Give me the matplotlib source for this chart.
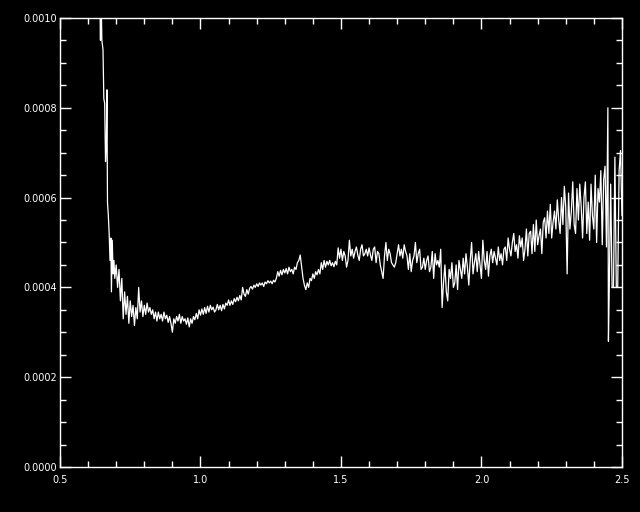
import matplotlib
matplotlib.use("Agg")
import matplotlib.pyplot as plt
from matplotlib.ticker import MultipleLocator, FormatStrFormatter

# steep blue edge of the spectrum (wavelength in nm, flux in 1e-4 units)
edge_wave_nm = [636, 641, 644, 646, 649, 653, 656, 659, 662, 665,
                667, 669, 672, 675, 678, 681, 683, 686, 689, 692]
edge_flux_e4 = [13.0, 10.8, 9.5, 10.6, 9.5, 9.3, 8.2, 8.1, 6.8, 7.2,
                8.4, 5.9, 5.6, 5.2, 4.6, 5.1, 3.9, 5.05, 4.3, 4.6]

# main part of the spectrum
main_wave_nm = [
    695, 700, 705, 710, 715, 720, 725, 730, 735, 740,
    745, 750, 755, 760, 765, 770, 775, 780, 785, 790,
    795, 800, 805, 810, 815, 820, 825, 830, 835, 840,
    845, 850, 855, 860, 865, 870, 875, 880, 885, 890,
    895, 900, 905, 910, 915, 920, 925, 930, 935, 940,
    945, 950, 955, 960, 965, 970, 975, 980, 985, 990,
    995, 1000, 1005, 1010, 1015, 1020, 1025, 1030, 1035, 1040,
    1045, 1050, 1055, 1060, 1065, 1070, 1075, 1080, 1085, 1090,
    1095, 1100, 1105, 1110, 1115, 1120, 1125, 1130, 1135, 1140,
    1145, 1150, 1155, 1160, 1165, 1170, 1175, 1180, 1185, 1190,
    1195, 1200, 1205, 1210, 1215, 1220, 1225, 1230, 1235, 1240,
    1245, 1250, 1255, 1260, 1265, 1270, 1275, 1280, 1285, 1290,
    1295, 1300, 1305, 1310, 1315, 1320, 1325, 1330, 1335, 1340,
    1345, 1350, 1355, 1360, 1365, 1370, 1375, 1380, 1385, 1390,
    1395, 1400, 1405, 1410, 1415, 1420, 1425, 1430, 1435, 1440,
    1445, 1450, 1455, 1460, 1465, 1470, 1475, 1480, 1485, 1490,
    1495, 1500, 1505, 1510, 1515, 1520, 1525, 1530, 1535, 1540,
    1545, 1550, 1555, 1560, 1565, 1570, 1575, 1580, 1585, 1590,
    1595, 1600, 1605, 1610, 1615, 1620, 1625, 1630, 1635, 1640,
    1645, 1650, 1655, 1660, 1665, 1670, 1675, 1680, 1685, 1690,
    1695, 1700, 1705, 1710, 1715, 1720, 1725, 1730, 1735, 1740,
    1745, 1750, 1755, 1760, 1765, 1770, 1775, 1780, 1785, 1790,
    1795, 1800, 1805, 1810, 1815, 1820, 1825, 1830, 1835, 1840,
    1845, 1850, 1855, 1860, 1865, 1870, 1875, 1880, 1885, 1890,
    1895, 1900, 1905, 1910, 1915, 1920, 1925, 1930, 1935, 1940,
    1945, 1950, 1955, 1960, 1965, 1970, 1975, 1980, 1985, 1990,
    1995, 2000, 2005, 2010, 2015, 2020, 2025, 2030, 2035, 2040,
    2045, 2050, 2055, 2060, 2065, 2070, 2075, 2080, 2085, 2090,
    2095, 2100, 2105, 2110, 2115, 2120, 2125, 2130, 2135, 2140,
    2145, 2150, 2155, 2160, 2165, 2170, 2175, 2180, 2185, 2190,
    2195, 2200, 2205, 2210, 2215, 2220, 2225, 2230, 2235, 2240,
    2245, 2250, 2255, 2260, 2265, 2270, 2275, 2280, 2285, 2290,
    2295, 2300, 2305, 2310, 2315, 2320, 2325, 2330, 2335, 2340,
    2345, 2350, 2355, 2360, 2365, 2370, 2375, 2380, 2385, 2390,
    2395, 2400, 2405, 2410, 2415, 2420, 2425, 2430, 2435, 2440,
    2445, 2450,
]
main_flux_e4 = [
    4.2, 4.5, 4.0, 4.4, 3.7, 4.2, 3.3, 3.9, 3.4, 3.8,
    3.2, 3.7, 3.35, 3.6, 3.15, 3.55, 3.3, 4.0, 3.45, 3.7,
    3.35, 3.6, 3.4, 3.65, 3.45, 3.55, 3.4, 3.5, 3.3, 3.45,
    3.25, 3.45, 3.3, 3.4, 3.25, 3.45, 3.3, 3.38, 3.22, 3.35,
    3.2, 3.0, 3.3, 3.2, 3.35, 3.25, 3.4, 3.2, 3.35, 3.25,
    3.3, 3.18, 3.32, 3.12, 3.3, 3.2, 3.35, 3.28, 3.42, 3.3,
    3.5, 3.38, 3.52, 3.4, 3.55, 3.42, 3.58, 3.45, 3.6, 3.5,
    3.56, 3.45, 3.5, 3.62, 3.5, 3.6, 3.48, 3.62, 3.52, 3.65,
    3.6, 3.72, 3.6, 3.7, 3.62, 3.75, 3.68, 3.78, 3.7, 3.82,
    3.72, 4.0, 3.85, 3.8, 3.95, 3.85, 3.98, 4.02, 3.96, 4.05,
    4.0, 4.08, 4.02, 4.1, 4.05, 4.1, 4.02, 4.12, 4.08, 4.15,
    4.1, 4.14, 4.08, 4.16, 4.12, 4.2, 4.35, 4.25, 4.38, 4.28,
    4.4, 4.32, 4.42, 4.3, 4.45, 4.35, 4.4, 4.3, 4.45, 4.4,
    4.55, 4.6, 4.72, 4.45, 4.2, 4.05, 3.95, 4.1, 4.0, 4.2,
    4.15, 4.3, 4.2, 4.35, 4.28, 4.4, 4.3, 4.55, 4.4, 4.6,
    4.45, 4.58, 4.5, 4.6, 4.48, 4.55, 4.46, 4.58, 4.5, 4.88,
    4.65, 4.85, 4.6, 4.8, 4.7, 4.45, 4.6, 5.05, 4.7, 4.85,
    4.65, 4.8, 4.9, 4.72, 4.6, 4.85, 4.95, 4.7, 4.75, 4.85,
    4.7, 4.88, 4.72, 4.6, 4.85, 4.9, 4.55, 4.8, 4.75, 4.5,
    4.35, 4.2, 4.7, 5.0, 4.6, 4.85, 4.75, 4.55, 4.5, 4.45,
    4.55, 4.75, 4.95, 4.7, 4.85, 4.65, 4.95, 4.8, 4.7, 4.4,
    4.75, 4.35, 4.6, 4.7, 5.0, 4.55, 4.75, 4.85, 4.4, 4.45,
    4.65, 4.4, 4.6, 4.7, 4.35, 4.45, 4.8, 4.2, 4.75, 4.5,
    4.6, 4.45, 4.85, 3.55, 4.1, 4.5, 3.9, 3.7, 4.4, 4.2,
    4.55, 4.0, 4.1, 4.5, 3.95, 4.6, 4.4, 4.2, 4.65, 4.3,
    4.75, 4.45, 4.05, 4.6, 5.0, 4.3, 4.55, 4.75, 4.35, 4.8,
    4.5, 4.2, 5.05, 4.6, 4.4, 4.8, 4.25, 4.7, 4.85, 4.55,
    4.8, 4.65, 4.5, 4.9, 4.6, 4.75, 4.5, 4.85, 4.9, 4.6,
    5.1, 4.85, 4.7, 5.0, 5.2, 4.8, 4.95, 4.65, 5.15, 4.9,
    5.1, 4.6, 4.85, 5.3, 4.7, 5.2, 5.25, 4.75, 5.4, 4.8,
    5.5, 4.95, 5.15, 5.3, 4.75, 5.45, 5.55, 5.1, 5.7, 5.2,
    5.85, 5.1, 5.45, 5.7, 5.3, 5.95, 5.5, 5.2, 6.0, 5.4,
    6.25, 5.8, 4.3, 6.1, 5.3, 5.7, 6.35, 5.4, 5.2, 6.2,
    5.5, 6.3, 5.8, 5.1, 6.0, 6.35, 5.2, 5.9, 5.05, 6.3,
    5.6, 5.3, 6.5, 5.0, 6.2, 5.9, 6.6, 4.95, 6.4, 6.7,
    4.9, 8.0,
]

# red end, noisy with a few flat points
tail_wave_nm = [2452, 2455, 2460, 2465, 2470, 2475, 2480, 2485, 2490, 2495, 2500]
tail_flux_e4 = [2.8, 4.0, 6.3, 4.0, 4.0, 6.9, 4.0, 4.0, 6.6, 7.05, 5.6]

wave = [w / 1000.0 for w in edge_wave_nm + main_wave_nm + tail_wave_nm]
flux = [f * 1e-4 for f in edge_flux_e4 + main_flux_e4 + tail_flux_e4]

fig = plt.figure(figsize=(6.4, 5.12), dpi=100, facecolor="black")
ax = fig.add_axes([0.09375, 0.0879, 0.878, 0.877])
ax.set_facecolor("black")

ax.plot(wave, flux, color="white", lw=0.9)

ax.set_xlim(0.5, 2.5)
ax.set_ylim(0.0, 0.0010)
ax.xaxis.set_major_locator(MultipleLocator(0.5))
ax.xaxis.set_minor_locator(MultipleLocator(0.1))
ax.yaxis.set_major_locator(MultipleLocator(0.0002))
ax.yaxis.set_minor_locator(MultipleLocator(0.00005))
ax.xaxis.set_major_formatter(FormatStrFormatter("%.1f"))
ax.yaxis.set_major_formatter(FormatStrFormatter("%.4f"))

for s in ax.spines.values():
    s.set_color("white")
    s.set_linewidth(1)

ax.tick_params(which="both", direction="in", colors="white",
               top=True, right=True, labelsize=7, width=1)
ax.tick_params(which="major", length=8)
ax.tick_params(which="minor", length=4.3)
ax.tick_params(axis="x", pad=6)
ax.tick_params(axis="y", pad=2)

fig.savefig("out.png", dpi=100, facecolor="black")
